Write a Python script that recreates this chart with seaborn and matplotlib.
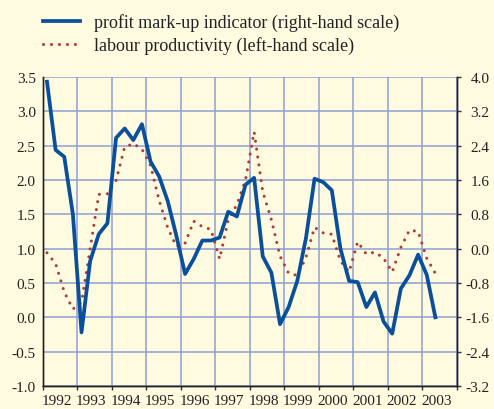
import numpy as np
import pandas as pd
import matplotlib
matplotlib.use("Agg")
import matplotlib.pyplot as plt
import matplotlib.transforms as mtransforms
import seaborn as sns
from matplotlib.lines import Line2D

# quarterly data, 1992Q1 - 2003Q2
quarters = pd.period_range("1992Q1", periods=46, freq="Q")

# profit mark-up indicator (right-hand scale)
markup = [3.89, 2.30, 2.14, 0.80,
          -1.95, -0.29, 0.34, 0.59,
          2.58, 2.80, 2.53, 2.90,
          2.03, 1.68, 1.10, 0.29,
          -0.59, -0.24, 0.19, 0.19,
          0.26, 0.86, 0.75, 1.49,
          1.65, -0.18, -0.56, -1.76,
          -1.36, -0.75, 0.24, 1.63,
          1.55, 1.36, 0.00, -0.75,
          -0.78, -1.36, -1.02, -1.70,
          -1.98, -0.93, -0.62, -0.14,
          -0.61, -1.60]

# labour productivity (left-hand scale)
productivity = [0.94, 0.78, 0.37, 0.12,
                0.22, 1.00, 1.79, 1.80,
                1.99, 2.48, 2.53, 2.45,
                2.21, 1.70, 1.30, 1.03,
                1.08, 1.40, 1.32, 1.28,
                0.85, 1.42, 1.64, 2.00,
                2.70, 1.83, 1.42, 0.89,
                0.64, 0.61, 0.87, 1.31,
                1.23, 1.21, 0.82, 0.66,
                1.10, 0.92, 0.95, 0.86,
                0.66, 1.02, 1.27, 1.25,
                0.86, 0.64]

years = list(range(1992, 2004))
left_ticks = [-1.0, -0.5, 0.0, 0.5, 1.0, 1.5, 2.0, 2.5, 3.0, 3.5]
right_ticks = [-3.2, -2.4, -1.6, -0.8, 0.0, 0.8, 1.6, 2.4, 3.2, 4.0]

df = pd.DataFrame({
    "x": quarters.year + (quarters.quarter - 0.5) / 4,
    "markup": markup,
    "productivity": productivity,
})

bg = "#fffbe0"
grid_c = "#8d9fd4"
blue = "#0a4f9c"
red = "#b23a32"
txt = "#222222"
dots = (0, (0.01, 2.6))

plt.rcParams["font.family"] = ["Liberation Serif", "DejaVu Serif"]
plt.rcParams["font.size"] = 11

fig = plt.figure(figsize=(4.94, 4.10), dpi=100, facecolor=bg)
ax = fig.add_axes([0.0864, 0.0561, 0.925 - 0.0864, 0.8098 - 0.0561])
ax.set_facecolor(bg)
ax2 = ax.twinx()
ax2.patch.set_visible(False)

sns.lineplot(data=df, x="x", y="productivity", ax=ax, color=red, lw=2.2,
             linestyle=dots, dash_capstyle="round")
sns.lineplot(data=df, x="x", y="markup", ax=ax2, color=blue, lw=2.7)

ax.set_xlim(1992, 2004)
ax.set_ylim(-1.0, 3.5)
ax2.set_ylim(-3.2, 4.0)

ax.set_yticks(left_ticks)
ax.set_yticklabels([f"{v:.1f}" for v in left_ticks], color=txt)
ax2.set_yticks(right_ticks)
ax2.set_yticklabels([f"{v:.1f}" for v in right_ticks], color=txt, ha="right")

ax.set_xticks(years + [2004])
ax.set_xticklabels([])
ax.set_xticks([y + 0.5 for y in years], minor=True)
ax.set_xticklabels([str(y) for y in years], minor=True, color=txt)
ax.tick_params(axis="x", which="major", length=3, width=1, color="#333333", direction="out")
ax.tick_params(axis="x", which="minor", length=0, pad=6)
ax.tick_params(axis="y", length=0, pad=5)
ax2.tick_params(axis="y", length=3, width=1, color="#333333", direction="out", pad=20.5)

# year labels sit a little left of the year centre
shift = mtransforms.ScaledTranslation(-0.035, 0, fig.dpi_scale_trans)
for lab in ax.get_xticklabels(minor=True):
    lab.set_transform(lab.get_transform() + shift)

ax.grid(True, which="major", color=grid_c, lw=1.1)
ax2.grid(False)
ax.set_axisbelow(True)

for a in (ax, ax2):
    a.set_xlabel("")
    a.set_ylabel("")
    a.spines["top"].set_visible(False)
    for s in ("left", "bottom", "right"):
        a.spines[s].set_color("#222222")
        a.spines[s].set_linewidth(1.0)

handles = [Line2D([0], [0], color=blue, lw=2.7),
           Line2D([0], [0], color=red, lw=2.2, linestyle=dots,
                  dash_capstyle="round")]
labels = ["profit mark-up indicator (right-hand scale)",
          "labour productivity (left-hand scale)"]
fig.legend(handles, labels, loc="upper left", bbox_to_anchor=(0.069, 0.988),
           frameon=False, borderpad=0, handlelength=2.05, handletextpad=0.75,
           labelspacing=0.3, fontsize=13, labelcolor=txt)

fig.savefig("out.png", dpi=100, facecolor=bg)
